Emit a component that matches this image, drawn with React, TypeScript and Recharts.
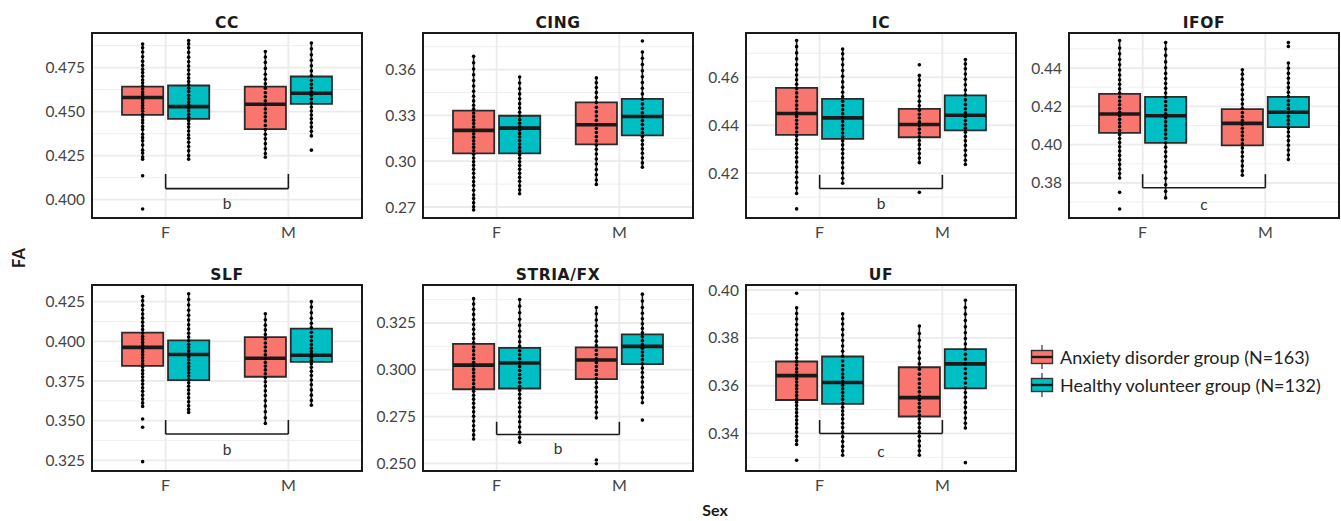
import React from 'react';
import {
  ComposedChart,
  XAxis,
  YAxis,
  CartesianGrid,
  Scatter,
  ReferenceArea,
  ReferenceLine,
  ReferenceDot,
} from 'recharts';

// ---------- categories ----------
const SEXES = ['F', 'M'];
const GROUPS = ['Anxiety disorder group (N=163)', 'Healthy volunteer group (N=132)'];
const TRACTS = ['CC', 'CING', 'IC', 'IFOF', 'SLF', 'STRIA/FX', 'UF'];
const X_LABEL = 'Sex';
const Y_LABEL = 'FA';

// ---------- data (box stats: [lower whisker, Q1, median, Q3, upper whisker]) ----------
// order of boxes: F-anxiety, F-healthy, M-anxiety, M-healthy
const CC_BOX = [
  [0.423, 0.4481, 0.458, 0.4642, 0.4883],
  [0.423, 0.4459, 0.4528, 0.4648, 0.4903],
  [0.4241, 0.44, 0.4542, 0.4642, 0.4841],
  [0.4362, 0.4544, 0.4604, 0.4699, 0.4889],
];
const CC_PTS = [
  [0.3947, 0.4136, 0.423, 0.4242, 0.4265, 0.4281, 0.431, 0.4334, 0.4352, 0.4371, 0.4398, 0.4415, 0.4437, 0.4452, 0.4469, 0.4483, 0.4502, 0.4519, 0.4534, 0.4551, 0.4566, 0.458, 0.4597, 0.4611, 0.4628, 0.4645, 0.4663, 0.4679, 0.4701, 0.4722, 0.474, 0.4762, 0.4785, 0.4811, 0.4838, 0.4862, 0.4883],
  [0.423, 0.4251, 0.4277, 0.4302, 0.4326, 0.4349, 0.4367, 0.439, 0.4412, 0.4431, 0.445, 0.4468, 0.4485, 0.4503, 0.452, 0.4538, 0.4555, 0.4573, 0.4592, 0.4614, 0.4633, 0.4652, 0.4671, 0.469, 0.4712, 0.4736, 0.4758, 0.4783, 0.4809, 0.4836, 0.4862, 0.4884, 0.4903],
  [0.4241, 0.4262, 0.4289, 0.4318, 0.4346, 0.4371, 0.4398, 0.4421, 0.4447, 0.447, 0.4492, 0.4515, 0.4538, 0.4561, 0.4584, 0.4607, 0.4633, 0.4658, 0.4684, 0.4712, 0.4745, 0.4779, 0.481, 0.4841],
  [0.4281, 0.4362, 0.4388, 0.4412, 0.4437, 0.4459, 0.4481, 0.4503, 0.4526, 0.4549, 0.4571, 0.4593, 0.4612, 0.4634, 0.4655, 0.4678, 0.4703, 0.4731, 0.476, 0.4791, 0.4822, 0.4856, 0.4889],
];
const CC_TICKS = [0.4, 0.425, 0.45, 0.475];
const CC_MINOR = [0.4125, 0.4375, 0.4625, 0.4875];
const CC_DOMAIN = [0.3896, 0.4946];
const CC_SIG = [0.4146, 0.4063, 0.3977];
const CC_SIG_LABEL = 'b';

const CING_BOX = [
  [0.268, 0.3051, 0.3202, 0.3331, 0.3687],
  [0.2787, 0.3051, 0.3217, 0.3298, 0.3552],
  [0.2848, 0.311, 0.3239, 0.3385, 0.3546],
  [0.2961, 0.3169, 0.3293, 0.3409, 0.3716],
];
const CING_PTS = [
  [0.268, 0.2701, 0.2728, 0.2755, 0.2779, 0.281, 0.2841, 0.2866, 0.2893, 0.2921, 0.2948, 0.2973, 0.2997, 0.3021, 0.3046, 0.3068, 0.3091, 0.3113, 0.3134, 0.3157, 0.3179, 0.3201, 0.3224, 0.3247, 0.3269, 0.3292, 0.3316, 0.3341, 0.3367, 0.3395, 0.3426, 0.3458, 0.3493, 0.3529, 0.3566, 0.3604, 0.3645, 0.3687],
  [0.2787, 0.2812, 0.2839, 0.2868, 0.2894, 0.2921, 0.2947, 0.2972, 0.2996, 0.3019, 0.3043, 0.3066, 0.3089, 0.3112, 0.3136, 0.3159, 0.3181, 0.3204, 0.3226, 0.3249, 0.3272, 0.3296, 0.3321, 0.3348, 0.3377, 0.3409, 0.3441, 0.3475, 0.3512, 0.3552],
  [0.2848, 0.2877, 0.2911, 0.2946, 0.2982, 0.3015, 0.3047, 0.3078, 0.3106, 0.3133, 0.3161, 0.3188, 0.3214, 0.3241, 0.3268, 0.3296, 0.3324, 0.3353, 0.3384, 0.3418, 0.3451, 0.3483, 0.3514, 0.3546],
  [0.2961, 0.2989, 0.3021, 0.3052, 0.3081, 0.3109, 0.3136, 0.3162, 0.3187, 0.3213, 0.324, 0.3266, 0.3291, 0.3318, 0.3346, 0.3375, 0.3406, 0.3441, 0.3478, 0.3516, 0.3553, 0.3592, 0.3634, 0.3675, 0.3716, 0.3788],
];
const CING_TICKS = [0.27, 0.3, 0.33, 0.36];
const CING_MINOR = [0.285, 0.315, 0.345, 0.375];
const CING_DOMAIN = [0.2628, 0.384];

const IC_BOX = [
  [0.4115, 0.436, 0.4449, 0.4556, 0.4754],
  [0.4158, 0.4343, 0.4431, 0.451, 0.4718],
  [0.4244, 0.435, 0.4403, 0.4468, 0.4608],
  [0.4236, 0.4379, 0.4442, 0.4525, 0.4674],
];
const IC_PTS = [
  [0.4051, 0.4115, 0.4138, 0.4161, 0.4183, 0.4204, 0.4226, 0.4247, 0.4266, 0.4285, 0.4303, 0.4321, 0.4339, 0.4356, 0.4372, 0.4389, 0.4405, 0.4421, 0.4437, 0.4452, 0.4468, 0.4484, 0.4501, 0.4518, 0.4535, 0.4553, 0.4571, 0.459, 0.461, 0.4631, 0.4653, 0.4677, 0.4702, 0.4728, 0.4754],
  [0.4158, 0.4179, 0.4201, 0.4223, 0.4244, 0.4263, 0.4282, 0.43, 0.4318, 0.4335, 0.4352, 0.4368, 0.4384, 0.44, 0.4416, 0.4432, 0.4448, 0.4465, 0.4482, 0.45, 0.4519, 0.4538, 0.4559, 0.4581, 0.4604, 0.4628, 0.4652, 0.4676, 0.4698, 0.4718],
  [0.412, 0.4244, 0.4263, 0.4282, 0.4301, 0.4319, 0.4336, 0.4352, 0.4368, 0.4384, 0.4399, 0.4414, 0.443, 0.4446, 0.4463, 0.4481, 0.45, 0.4521, 0.4543, 0.4566, 0.4589, 0.4608, 0.4652],
  [0.4236, 0.4254, 0.4275, 0.4296, 0.4316, 0.4335, 0.4353, 0.4371, 0.4388, 0.4404, 0.442, 0.4436, 0.4452, 0.4469, 0.4487, 0.4506, 0.4526, 0.4547, 0.4569, 0.4592, 0.4614, 0.4636, 0.4656, 0.4674],
];
const IC_TICKS = [0.42, 0.44, 0.46];
const IC_MINOR = [0.41, 0.43, 0.45, 0.47];
const IC_DOMAIN = [0.4013, 0.4785];
const IC_SIG = [0.4193, 0.4136, 0.4072];
const IC_SIG_LABEL = 'b';

const IFOF_BOX = [
  [0.3826, 0.4061, 0.416, 0.4265, 0.4544],
  [0.3722, 0.4009, 0.4151, 0.4249, 0.4533],
  [0.384, 0.3996, 0.4111, 0.4186, 0.4391],
  [0.3922, 0.4092, 0.4169, 0.4249, 0.4426],
];
const IFOF_PTS = [
  [0.3664, 0.3751, 0.3826, 0.3849, 0.3873, 0.3897, 0.3921, 0.3944, 0.3967, 0.3989, 0.4011, 0.4032, 0.4053, 0.4074, 0.4094, 0.4113, 0.4132, 0.4151, 0.417, 0.4189, 0.4208, 0.4228, 0.4249, 0.427, 0.4292, 0.4315, 0.4339, 0.4364, 0.439, 0.4417, 0.4445, 0.4474, 0.4505, 0.4544],
  [0.3722, 0.3756, 0.3791, 0.3824, 0.3855, 0.3884, 0.3912, 0.3938, 0.3963, 0.3987, 0.401, 0.4033, 0.4055, 0.4077, 0.4098, 0.4119, 0.414, 0.4161, 0.4182, 0.4203, 0.4225, 0.4247, 0.427, 0.4294, 0.4319, 0.4345, 0.4372, 0.4401, 0.4432, 0.4466, 0.4499, 0.4533],
  [0.384, 0.3863, 0.3889, 0.3914, 0.3938, 0.3961, 0.3983, 0.4004, 0.4025, 0.4046, 0.4066, 0.4086, 0.4106, 0.4126, 0.4146, 0.4167, 0.4189, 0.4212, 0.4236, 0.4261, 0.4287, 0.4314, 0.4342, 0.4368, 0.4391],
  [0.3922, 0.3946, 0.3972, 0.3997, 0.4021, 0.4044, 0.4066, 0.4087, 0.4108, 0.4128, 0.4148, 0.4168, 0.4188, 0.4208, 0.4229, 0.4251, 0.4274, 0.4298, 0.4322, 0.4347, 0.4372, 0.4399, 0.4426, 0.4513, 0.4533],
];
const IFOF_TICKS = [0.38, 0.4, 0.42, 0.44];
const IFOF_MINOR = [0.37, 0.39, 0.41, 0.43, 0.45];
const IFOF_DOMAIN = [0.3617, 0.4583];
const IFOF_SIG = [0.3846, 0.3775, 0.3689];
const IFOF_SIG_LABEL = 'c';

const SLF_BOX = [
  [0.359, 0.3846, 0.3962, 0.4055, 0.4283],
  [0.3552, 0.3756, 0.3917, 0.4006, 0.43],
  [0.3483, 0.3777, 0.3893, 0.4027, 0.4174],
  [0.3597, 0.3871, 0.3912, 0.408, 0.425],
];
const SLF_PTS = [
  [0.3242, 0.3459, 0.3511, 0.359, 0.3612, 0.3636, 0.3661, 0.3685, 0.3708, 0.3731, 0.3753, 0.3775, 0.3796, 0.3817, 0.3838, 0.3858, 0.3878, 0.3897, 0.3916, 0.3935, 0.3954, 0.3973, 0.3992, 0.4011, 0.4031, 0.4052, 0.4074, 0.4097, 0.4121, 0.4146, 0.4172, 0.4199, 0.4227, 0.4255, 0.4283],
  [0.3552, 0.3571, 0.3594, 0.3619, 0.3645, 0.367, 0.3694, 0.3717, 0.3739, 0.376, 0.3781, 0.3802, 0.3822, 0.3842, 0.3862, 0.3882, 0.3902, 0.3921, 0.3941, 0.3961, 0.3982, 0.4004, 0.4027, 0.4051, 0.4077, 0.4105, 0.4134, 0.4164, 0.4196, 0.4229, 0.4264, 0.43],
  [0.3483, 0.3519, 0.3556, 0.3592, 0.3626, 0.3658, 0.3689, 0.3718, 0.3745, 0.3771, 0.3796, 0.382, 0.3844, 0.3867, 0.3891, 0.3915, 0.3939, 0.3964, 0.399, 0.4016, 0.4043, 0.4072, 0.4102, 0.4136, 0.4174],
  [0.3597, 0.3628, 0.3661, 0.3694, 0.3726, 0.3756, 0.3784, 0.3811, 0.3836, 0.3859, 0.388, 0.3899, 0.3917, 0.3936, 0.3957, 0.398, 0.4004, 0.403, 0.4057, 0.4085, 0.4114, 0.4145, 0.418, 0.4216, 0.425],
];
const SLF_TICKS = [0.325, 0.35, 0.375, 0.4, 0.425];
const SLF_MINOR = [0.3375, 0.3625, 0.3875, 0.4125];
const SLF_DOMAIN = [0.3183, 0.4355];
const SLF_SIG = [0.3504, 0.3416, 0.3319];
const SLF_SIG_LABEL = 'b';

const STRIA_BOX = [
  [0.263, 0.2896, 0.3025, 0.3138, 0.338],
  [0.2612, 0.29, 0.3036, 0.3117, 0.3375],
  [0.2743, 0.295, 0.3052, 0.312, 0.3333],
  [0.2824, 0.303, 0.3125, 0.3189, 0.3404],
];
const STRIA_PTS = [
  [0.263, 0.2652, 0.2676, 0.2701, 0.2726, 0.2751, 0.2775, 0.2798, 0.2821, 0.2843, 0.2864, 0.2885, 0.2905, 0.2925, 0.2945, 0.2964, 0.2983, 0.3002, 0.3021, 0.304, 0.306, 0.308, 0.3101, 0.3122, 0.3144, 0.3167, 0.3191, 0.3216, 0.3242, 0.3269, 0.3296, 0.3323, 0.3351, 0.338],
  [0.2612, 0.2638, 0.2666, 0.2694, 0.2722, 0.2749, 0.2775, 0.28, 0.2824, 0.2847, 0.2869, 0.2891, 0.2912, 0.2933, 0.2954, 0.2975, 0.2996, 0.3017, 0.3038, 0.3059, 0.308, 0.3102, 0.3125, 0.315, 0.3177, 0.3206, 0.3237, 0.327, 0.3305, 0.334, 0.3375],
  [0.2498, 0.2518, 0.2743, 0.2771, 0.28, 0.2828, 0.2855, 0.2881, 0.2906, 0.293, 0.2953, 0.2975, 0.2996, 0.3017, 0.3038, 0.3059, 0.3081, 0.3104, 0.3128, 0.3153, 0.3179, 0.3206, 0.3235, 0.3266, 0.3299, 0.3333],
  [0.2731, 0.2824, 0.2851, 0.2879, 0.2907, 0.2934, 0.296, 0.2985, 0.3009, 0.3032, 0.3054, 0.3075, 0.3095, 0.3115, 0.3135, 0.3155, 0.3176, 0.3198, 0.3221, 0.3246, 0.3273, 0.3302, 0.3333, 0.3367, 0.3404],
];
const STRIA_TICKS = [0.25, 0.275, 0.3, 0.325];
const STRIA_MINOR = [0.2625, 0.2875, 0.3125, 0.3375];
const STRIA_DOMAIN = [0.2459, 0.3453];
const STRIA_SIG = [0.2722, 0.2654, 0.2579];
const STRIA_SIG_LABEL = 'b';

const UF_BOX = [
  [0.3354, 0.354, 0.3642, 0.3701, 0.3926],
  [0.3309, 0.3524, 0.3613, 0.3722, 0.3901],
  [0.3309, 0.3471, 0.355, 0.3677, 0.3849],
  [0.3423, 0.3589, 0.3691, 0.3753, 0.3957],
];
const UF_PTS = [
  [0.3288, 0.3354, 0.337, 0.3388, 0.3406, 0.3423, 0.344, 0.3456, 0.3472, 0.3487, 0.3502, 0.3517, 0.3531, 0.3545, 0.3559, 0.3573, 0.3587, 0.3601, 0.3615, 0.3629, 0.3643, 0.3657, 0.3671, 0.3686, 0.3701, 0.3717, 0.3734, 0.3752, 0.3771, 0.3791, 0.3812, 0.3834, 0.3856, 0.3879, 0.3902, 0.3926, 0.3986],
  [0.3309, 0.3327, 0.3346, 0.3366, 0.3386, 0.3406, 0.3425, 0.3443, 0.3461, 0.3478, 0.3494, 0.351, 0.3526, 0.3542, 0.3557, 0.3572, 0.3587, 0.3602, 0.3617, 0.3633, 0.3649, 0.3666, 0.3684, 0.3703, 0.3723, 0.3744, 0.3766, 0.3789, 0.3812, 0.3835, 0.3858, 0.388, 0.3901],
  [0.3309, 0.3328, 0.3348, 0.3368, 0.3388, 0.3407, 0.3425, 0.3443, 0.346, 0.3477, 0.3493, 0.3509, 0.3525, 0.3541, 0.3557, 0.3574, 0.3591, 0.3609, 0.3628, 0.3648, 0.3669, 0.3691, 0.3714, 0.3738, 0.3763, 0.379, 0.3818, 0.3849],
  [0.3278, 0.3423, 0.3443, 0.3465, 0.3487, 0.3509, 0.353, 0.3551, 0.3571, 0.3591, 0.3611, 0.3631, 0.3651, 0.3671, 0.3691, 0.3711, 0.3731, 0.3752, 0.3774, 0.3797, 0.3821, 0.3846, 0.3872, 0.3899, 0.3927, 0.3957],
];
const UF_TICKS = [0.34, 0.36, 0.38, 0.4];
const UF_MINOR = [0.33, 0.35, 0.37, 0.39];
const UF_DOMAIN = [0.3243, 0.4021];
const UF_SIG = [0.3456, 0.34, 0.3326];
const UF_SIG_LABEL = 'c';

// ---------- layout & style ----------
const COLORS = ['#F8766D', '#00BFC4'];
const PW = 270;
const PANEL_POS = [
  [92, 33, 185],
  [423, 33, 185],
  [746, 33, 185],
  [1069, 33, 185],
  [92, 285, 186],
  [423, 285, 186],
  [746, 285, 186],
];
const X_DOMAIN = [0.4, 2.6];
const DODGE = 0.1875;
const HALF_W = 0.168;
const FONT = 'Lato, "DejaVu Sans", sans-serif';
const DARK = '#1a1a1a';

const PANELS = [
  { box: CC_BOX, pts: CC_PTS, ticks: CC_TICKS, minor: CC_MINOR, domain: CC_DOMAIN, digits: 3, sig: CC_SIG, sigLabel: CC_SIG_LABEL },
  { box: CING_BOX, pts: CING_PTS, ticks: CING_TICKS, minor: CING_MINOR, domain: CING_DOMAIN, digits: 2, sig: null, sigLabel: '' },
  { box: IC_BOX, pts: IC_PTS, ticks: IC_TICKS, minor: IC_MINOR, domain: IC_DOMAIN, digits: 2, sig: IC_SIG, sigLabel: IC_SIG_LABEL },
  { box: IFOF_BOX, pts: IFOF_PTS, ticks: IFOF_TICKS, minor: IFOF_MINOR, domain: IFOF_DOMAIN, digits: 2, sig: IFOF_SIG, sigLabel: IFOF_SIG_LABEL },
  { box: SLF_BOX, pts: SLF_PTS, ticks: SLF_TICKS, minor: SLF_MINOR, domain: SLF_DOMAIN, digits: 3, sig: SLF_SIG, sigLabel: SLF_SIG_LABEL },
  { box: STRIA_BOX, pts: STRIA_PTS, ticks: STRIA_TICKS, minor: STRIA_MINOR, domain: STRIA_DOMAIN, digits: 3, sig: STRIA_SIG, sigLabel: STRIA_SIG_LABEL },
  { box: UF_BOX, pts: UF_PTS, ticks: UF_TICKS, minor: UF_MINOR, domain: UF_DOMAIN, digits: 2, sig: UF_SIG, sigLabel: UF_SIG_LABEL },
];

const Dot = (p: any) => <circle cx={p.cx} cy={p.cy} r={1.8} fill="#000" />;

function Panel({ idx }: { idx: number }) {
  const cfg = PANELS[idx];
  const [left, top, ph] = PANEL_POS[idx];
  const YW = 62;
  const MT = 4;
  const XH = 36;
  const MR = 8;
  const W = PW + YW + MR;
  const H = ph + MT + XH;

  const centers = cfg.box.map((_, i) => {
    const sexIdx = Math.floor(i / 2);
    const grp = i % 2;
    return sexIdx + 1 + (grp === 0 ? -DODGE : DODGE);
  });

  const boxes: any[] = [];
  const lines: any[] = [];
  const scatters: any[] = [];
  cfg.box.forEach((b, i) => {
    const c = centers[i];
    const [lo, q1, med, q3, hi] = b;
    boxes.push(
      <ReferenceArea
        key={'bx' + i}
        x1={c - HALF_W}
        x2={c + HALF_W}
        y1={q1}
        y2={q3}
        fill={COLORS[i % 2]}
        fillOpacity={1}
        stroke="#2b2b2b"
        strokeWidth={1.8}
        ifOverflow="visible"
      />
    );
    lines.push(
      <ReferenceLine key={'wu' + i} segment={[{ x: c, y: q3 }, { x: c, y: hi }]} stroke={DARK} strokeWidth={1.6} ifOverflow="visible" />,
      <ReferenceLine key={'wl' + i} segment={[{ x: c, y: lo }, { x: c, y: q1 }]} stroke={DARK} strokeWidth={1.6} ifOverflow="visible" />,
      <ReferenceLine key={'md' + i} segment={[{ x: c - HALF_W, y: med }, { x: c + HALF_W, y: med }]} stroke={DARK} strokeWidth={3.6} ifOverflow="visible" />
    );
    scatters.push(
      <Scatter
        key={'sc' + i}
        data={cfg.pts[i].map((v) => ({ x: c, y: v }))}
        shape={Dot}
        isAnimationActive={false}
      />
    );
  });

  const sig: any[] = [];
  if (cfg.sig) {
    const [yt, yb, yl] = cfg.sig;
    sig.push(
      <ReferenceLine key="s1" segment={[{ x: 1, y: yt }, { x: 1, y: yb }]} stroke={DARK} strokeWidth={1.6} ifOverflow="visible" />,
      <ReferenceLine key="s2" segment={[{ x: 1, y: yb }, { x: 2, y: yb }]} stroke={DARK} strokeWidth={1.6} ifOverflow="visible" />,
      <ReferenceLine key="s3" segment={[{ x: 2, y: yt }, { x: 2, y: yb }]} stroke={DARK} strokeWidth={1.6} ifOverflow="visible" />,
      <ReferenceDot
        key="s4"
        x={1.5}
        y={yl}
        r={0.01}
        fill="none"
        stroke="none"
        ifOverflow="visible"
        label={{ value: cfg.sigLabel, position: 'center', fill: '#333', fontSize: 15.5, fontFamily: FONT }}
      />
    );
  }

  return (
    <>
      <div style={{ position: 'absolute', left: left - YW, top: top - MT, width: W, height: H }}>
        <ComposedChart width={W} height={H} margin={{ top: MT, right: MR, bottom: 0, left: 0 }}>
          <CartesianGrid horizontalValues={cfg.minor} vertical={false} stroke="#ededed" strokeWidth={0.9} />
          <CartesianGrid stroke="#ebebeb" strokeWidth={1.8} />
          <XAxis
            type="number"
            dataKey="x"
            domain={X_DOMAIN}
            ticks={[1, 2]}
            allowDataOverflow
            tickFormatter={(v: number) => SEXES[v - 1]}
            axisLine={false}
            tickLine={false}
            height={XH}
            tickMargin={3}
            tick={{ fontSize: 16, fill: '#444', fontFamily: FONT }}
          />
          <YAxis
            type="number"
            dataKey="y"
            domain={cfg.domain}
            ticks={cfg.ticks}
            allowDataOverflow
            tickFormatter={(v: number) => v.toFixed(cfg.digits)}
            axisLine={false}
            tickLine={false}
            width={YW}
            tickMargin={1}
            tick={{ fontSize: 15.5, fill: '#444', fontFamily: FONT }}
          />
          {boxes}
          {lines}
          {scatters}
          {sig}
          <ReferenceArea
            x1={X_DOMAIN[0]}
            x2={X_DOMAIN[1]}
            y1={cfg.domain[0]}
            y2={cfg.domain[1]}
            fill="none"
            stroke={DARK}
            strokeWidth={2}
            ifOverflow="visible"
          />
        </ComposedChart>
      </div>
      <div
        style={{
          position: 'absolute',
          left,
          top: top - 20,
          width: PW,
          height: 20,
          lineHeight: '20px',
          textAlign: 'center',
          fontFamily: '"DejaVu Sans", sans-serif',
          fontWeight: 'bold',
          fontSize: 15.5,
          letterSpacing: 0.6,
          color: DARK,
        }}
      >
        {TRACTS[idx]}
      </div>
    </>
  );
}

function LegendKey({ color }: { color: string }) {
  return (
    <svg width={24} height={24} style={{ display: 'block' }}>
      <line x1={12} x2={12} y1={0} y2={24} stroke="#333" strokeWidth={1.2} />
      <rect x={1.5} y={5.5} width={21} height={13} fill={color} stroke="#333" strokeWidth={1.4} />
      <line x1={1.5} x2={22.5} y1={12} y2={12} stroke={DARK} strokeWidth={2.4} />
    </svg>
  );
}

export default function App() {
  return (
    <div
      style={{
        position: 'absolute',
        left: 0,
        top: 0,
        width: 1341,
        height: 521,
        background: '#fff',
        fontFamily: FONT,
        overflow: 'hidden',
      }}
    >
      {PANELS.map((_, i) => (
        <Panel key={i} idx={i} />
      ))}
      <div
        style={{
          position: 'absolute',
          left: 19 - 20,
          top: 258 - 10,
          width: 40,
          height: 20,
          lineHeight: '20px',
          textAlign: 'center',
          transform: 'rotate(-90deg)',
          fontWeight: 'bold',
          fontSize: 16.5,
          color: DARK,
        }}
      >
        {Y_LABEL}
      </div>
      <div
        style={{
          position: 'absolute',
          left: 715 - 40,
          top: 500,
          width: 80,
          height: 19,
          lineHeight: '19px',
          textAlign: 'center',
          fontWeight: 'bold',
          fontSize: 16,
          color: DARK,
        }}
      >
        {X_LABEL}
      </div>
      {GROUPS.map((g, i) => (
        <div
          key={g}
          style={{
            position: 'absolute',
            left: 1030,
            top: 345 + i * 27.5,
            height: 24,
            display: 'flex',
            alignItems: 'center',
            whiteSpace: 'nowrap',
          }}
        >
          <LegendKey color={COLORS[i]} />
          <span style={{ marginLeft: 6, fontSize: 18, color: '#222', lineHeight: '24px' }}>{g}</span>
        </div>
      ))}
    </div>
  );
}
